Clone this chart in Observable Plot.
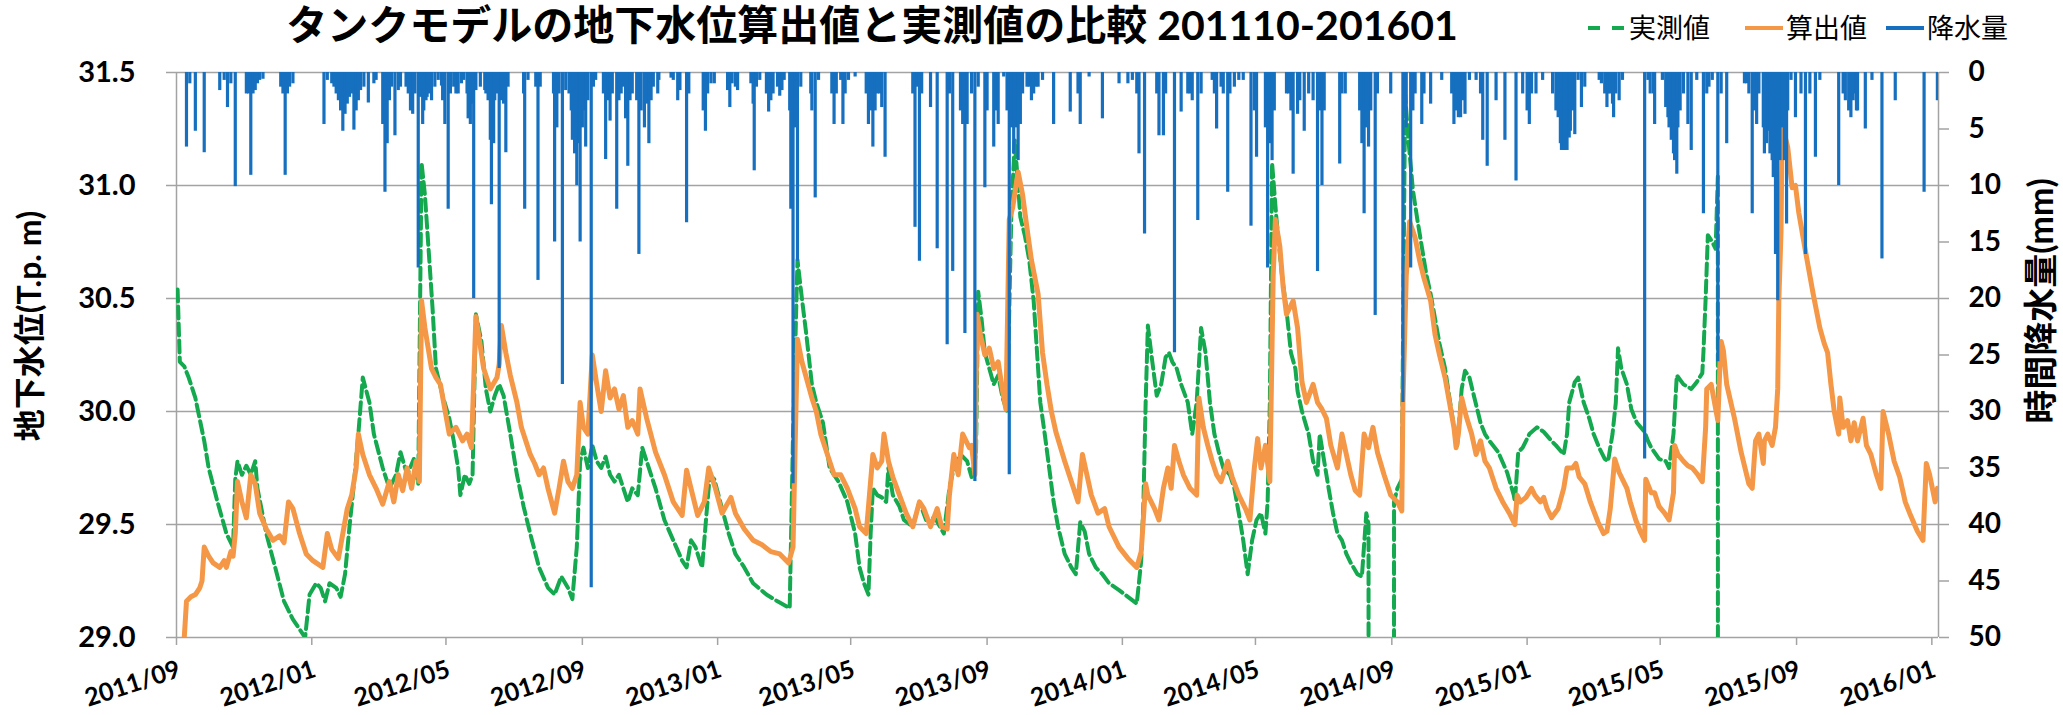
<!DOCTYPE html>
<html>
<head>
<meta charset="utf-8">
<script src="https://cdn.jsdelivr.net/npm/d3@7"></script>
<script src="https://cdn.jsdelivr.net/npm/@observablehq/plot@0.6"></script>
<style>
  body { margin: 0; background: #fff; }
  #wrap { position: relative; width: 2063px; height: 715px; overflow: hidden; background: #fff; }
  #wrap > svg { position: absolute; left: 0; top: 0; }
</style>
</head>
<body>
<div id="wrap"></div>
<script>
// ---- data -------------------------------------------------------------
// Days are counted from 2011-09-01.
const START = "2011-09-01";
const X_DOMAIN = ["2011-09-01", "2016-01-07"];

const xTicks = ["2011-09-01", "2012-01-01", "2012-05-01", "2012-09-01", "2013-01-01",
  "2013-05-01", "2013-09-01", "2014-01-01", "2014-05-01", "2014-09-01",
  "2015-01-01", "2015-05-01", "2015-09-01", "2016-01-01"];
const levelTicks = [29.0, 29.5, 30.0, 30.5, 31.0, 31.5];
const rainTicks = [0, 5, 10, 15, 20, 25, 30, 35, 40, 45, 50];

// measured groundwater level (T.p. m); 0 marks missing readings
const measuredDay = [1,3,7,11,17,25,29,37,45,51,53,55,59,63,67,71,73,81,89,97,105,116,120,126,130,134,138,144,148,152,156,160,164,168,174,178,186,192,198,202,208,214,218,221,224,228,231,234,240,246,250,254,256,260,264,267,270,275,279,283,287,291,295,301,307,313,319,327,335,341,347,353,357,361,364,367,371,375,379,383,387,391,395,399,403,407,411,416,420,424,432,440,448,456,460,464,468,474,478,481,485,492,498,504,512,520,532,542,553,556,560,564,568,573,577,583,589,597,605,612,616,620,624,626,628,632,636,640,642,646,652,656,664,670,676,684,692,697,701,707,713,717,721,723,726,729,733,737,741,745,749,753,756,761,765,769,773,775,779,783,787,791,795,801,807,811,815,819,823,829,835,841,850,858,866,870,872,874,876,880,884,888,892,895,898,902,906,912,916,920,924,928,932,936,940,944,950,954,958,962,966,970,974,978,982,984,986,988,992,997,1001,1005,1009,1011,1015,1021,1025,1029,1031,1035,1039,1043,1047,1051,1055,1059,1065,1069,1073,1075,1076,1097,1098,1101,1105,1108,1111,1115,1119,1123,1127,1131,1135,1139,1144,1148,1152,1155,1159,1162,1166,1170,1176,1180,1184,1192,1200,1206,1207,1210,1214,1220,1227,1233,1240,1244,1251,1254,1256,1261,1264,1269,1274,1278,1283,1288,1291,1295,1298,1300,1303,1308,1312,1317,1324,1327,1330,1337,1343,1346,1350,1353,1359,1366,1371,1376,1377,1379,1381,1385,1388,1390,1391];
const measuredLevel = [30.54,30.22,30.2,30.15,30.06,29.87,29.75,29.6,29.46,29.4,29.7,29.78,29.72,29.76,29.72,29.78,29.66,29.46,29.31,29.16,29.08,29.0,29.19,29.24,29.22,29.16,29.24,29.22,29.18,29.28,29.49,29.68,29.9,30.15,30.04,29.9,29.75,29.66,29.72,29.82,29.72,29.79,29.68,31.1,30.96,30.67,30.45,30.19,30.07,29.97,29.87,29.75,29.63,29.72,29.68,29.72,30.43,30.31,30.1,30.0,30.07,30.12,30.07,29.9,29.72,29.58,29.46,29.31,29.22,29.19,29.27,29.22,29.17,29.4,29.78,29.84,29.75,29.85,29.78,29.75,29.8,29.72,29.69,29.72,29.66,29.6,29.66,29.63,29.84,29.78,29.66,29.52,29.43,29.34,29.31,29.43,29.4,29.31,29.55,29.72,29.7,29.57,29.46,29.37,29.31,29.24,29.19,29.16,29.13,29.9,30.67,30.5,30.34,30.12,30.04,29.95,29.75,29.69,29.6,29.46,29.31,29.24,29.19,29.46,29.66,29.63,29.62,29.6,29.75,29.63,29.58,29.52,29.49,29.6,29.52,29.53,29.46,29.66,29.75,29.81,29.78,29.71,29.81,30.53,30.41,30.26,30.19,30.12,30.16,30.06,30.0,30.9,31.2,30.86,30.78,30.67,30.49,30.34,30.04,29.9,29.75,29.6,29.49,29.37,29.31,29.28,29.51,29.47,29.37,29.31,29.28,29.24,29.21,29.18,29.15,29.34,29.6,30.04,30.38,30.22,30.07,30.12,30.24,30.26,30.22,30.19,30.12,30.04,29.9,30.04,30.37,30.26,30.04,29.9,29.82,29.75,29.72,29.66,29.55,29.43,29.28,29.43,29.52,29.55,29.46,29.6,30.04,31.1,30.85,30.6,30.45,30.26,30.19,30.09,30.0,29.9,29.78,29.72,29.9,29.78,29.66,29.55,29.46,29.43,29.37,29.33,29.28,29.27,29.55,29.5,0,0,29.6,29.66,29.7,31.4,31.2,30.98,30.85,30.73,30.61,30.52,30.41,30.3,30.19,30.06,29.93,29.85,30.1,30.18,30.15,30.07,29.95,29.9,29.87,29.82,29.73,29.63,29.6,29.82,29.84,29.9,29.93,29.91,29.87,29.85,29.81,29.9,30.04,30.13,30.15,30.04,29.97,29.9,29.84,29.79,29.78,29.9,30.04,30.28,30.19,30.12,30.01,29.95,29.91,29.87,29.84,29.79,29.78,29.75,29.9,30.16,30.12,30.1,30.13,30.17,30.26,30.5,30.78,30.75,30.72,31.04,0];

// tank-model groundwater level (T.p. m)
const calcDay = [7,9,13,17,21,23,25,29,33,39,43,45,49,51,53,55,59,63,67,71,75,81,87,93,97,101,105,111,117,123,132,136,140,146,150,154,158,162,164,168,174,180,186,192,196,200,204,208,212,216,219,221,224,230,234,238,242,246,252,258,262,266,270,277,283,289,291,293,297,301,307,311,315,319,323,327,331,335,341,345,349,353,357,361,364,367,371,375,379,383,387,391,395,399,403,407,411,416,418,424,432,440,448,456,460,464,470,476,480,486,492,500,504,512,520,528,536,544,552,556,558,560,564,573,577,581,589,593,599,605,612,616,622,628,632,636,638,642,646,652,658,664,670,674,680,686,690,695,697,701,705,709,715,717,720,722,725,729,733,737,741,745,748,751,754,759,763,767,771,777,781,785,789,793,801,809,813,817,821,825,831,837,841,850,858,866,870,874,876,882,886,890,894,897,900,904,908,914,920,922,926,930,934,938,942,948,952,958,964,968,972,975,978,982,986,989,991,995,998,1001,1007,1011,1015,1019,1025,1029,1033,1037,1041,1047,1051,1055,1059,1063,1067,1071,1075,1079,1083,1089,1095,1101,1105,1106,1109,1112,1117,1121,1125,1131,1135,1139,1144,1148,1152,1154,1156,1159,1163,1168,1172,1176,1180,1184,1190,1196,1202,1207,1209,1212,1217,1222,1225,1230,1233,1236,1240,1243,1246,1251,1254,1259,1262,1265,1270,1275,1282,1287,1290,1293,1297,1301,1304,1308,1311,1316,1320,1324,1325,1330,1333,1337,1342,1346,1350,1351,1354,1359,1363,1367,1372,1376,1379,1380,1384,1387,1390,1392,1393,1395,1398,1405,1411,1418,1421,1424,1427,1431,1432,1435,1439,1442,1444,1445,1447,1448,1453,1457,1460,1463,1469,1476,1482,1486,1489,1492,1495,1499,1500,1503,1507,1510,1513,1516,1521,1524,1528,1533,1537,1539,1544,1549,1554,1559,1563,1570,1575,1578,1581,1586,1588];
const calcLevel = [29.0,29.16,29.18,29.19,29.22,29.25,29.4,29.36,29.33,29.31,29.34,29.31,29.38,29.36,29.46,29.69,29.6,29.53,29.72,29.68,29.55,29.48,29.43,29.45,29.42,29.6,29.57,29.46,29.37,29.34,29.31,29.46,29.39,29.35,29.46,29.57,29.63,29.75,29.9,29.81,29.72,29.66,29.59,29.69,29.6,29.72,29.65,29.75,29.66,29.78,29.69,30.49,30.37,30.19,30.15,30.12,30.01,29.9,29.93,29.87,29.9,29.84,30.42,30.19,30.1,30.15,30.21,30.38,30.26,30.16,30.04,29.93,29.87,29.81,29.77,29.72,29.75,29.66,29.55,29.66,29.78,29.69,29.66,29.72,30.04,29.93,29.9,30.25,30.12,30.0,30.18,30.06,30.1,30.01,30.07,29.93,29.96,29.9,30.1,29.97,29.82,29.72,29.6,29.54,29.74,29.66,29.54,29.6,29.75,29.66,29.55,29.62,29.55,29.48,29.43,29.41,29.38,29.37,29.33,29.4,29.87,30.32,30.22,30.06,30.0,29.9,29.78,29.72,29.72,29.66,29.57,29.49,29.46,29.81,29.75,29.78,29.9,29.78,29.71,29.63,29.55,29.49,29.6,29.57,29.49,29.57,29.49,29.48,29.63,29.81,29.72,29.9,29.84,29.85,29.72,30.43,30.34,30.25,30.28,30.19,30.22,30.09,30.01,30.85,30.9,31.06,30.96,30.81,30.67,30.52,30.26,30.12,30.0,29.91,29.78,29.66,29.6,29.81,29.72,29.63,29.55,29.57,29.49,29.4,29.35,29.31,29.38,29.68,29.63,29.57,29.52,29.66,29.75,29.66,29.85,29.78,29.72,29.66,29.63,30.06,29.93,29.85,29.78,29.72,29.69,29.78,29.71,29.63,29.57,29.52,29.75,29.88,29.75,29.85,29.69,30.6,30.85,30.73,30.55,30.43,30.49,30.37,30.13,30.04,30.12,30.04,30.01,29.97,29.85,29.75,29.9,29.81,29.72,29.65,29.63,29.9,29.84,29.93,29.82,29.72,29.63,29.6,29.56,30.04,30.6,30.84,30.77,30.67,30.59,30.49,30.34,30.25,30.15,30.04,29.93,29.84,29.9,30.06,29.98,29.9,29.81,29.87,29.78,29.75,29.66,29.6,29.55,29.5,29.63,29.6,29.62,29.66,29.63,29.6,29.62,29.57,29.53,29.55,29.57,29.66,29.75,29.75,29.77,29.71,29.68,29.6,29.51,29.46,29.47,29.57,29.79,29.73,29.7,29.66,29.6,29.52,29.47,29.43,29.7,29.64,29.64,29.58,29.55,29.52,29.64,29.85,29.81,29.78,29.76,29.75,29.72,29.69,29.93,30.1,30.12,30.04,29.96,30.22,30.31,30.27,30.12,29.97,29.82,29.68,29.66,29.87,29.9,29.77,29.87,29.9,29.85,29.93,30.1,30.49,30.8,31.27,31.17,30.99,31.0,30.88,30.71,30.52,30.37,30.3,30.26,30.12,30.0,29.9,30.06,29.93,29.96,29.87,29.95,29.87,29.97,29.85,29.81,29.72,29.66,30.0,29.9,29.78,29.71,29.6,29.55,29.47,29.43,29.77,29.72,29.6,29.66];

// hourly precipitation: [day, mm]
const rainfall = [
  [9,6.6],[12,1.0],[17,5.2],[25,7.1],[39,1.6],[43,0.7],[46,3.1],[49,1.0],[53,10.1],[63,1.9],
  [65,1.9],[67,9.1],[69,1.9],[71,1.6],[73,1.0],[75,0.7],[78,0.6],[94,1.3],[96,1.9],[98,9.1],
  [100,1.9],[102,1.3],[105,1.0],[133,4.6],[136,0.7],[140,1.0],[142,1.3],[144,1.9],[146,2.5],[148,3.4],
  [150,5.2],[152,3.7],[154,2.8],[156,2.2],[158,1.9],[160,5.1],[162,3.4],[164,2.5],[166,1.6],[169,1.3],
  [173,2.7],[178,1.0],[180,0.7],[186,4.6],[188,10.6],[190,6.3],[192,2.5],[194,1.3],[197,5.6],[200,1.6],
  [202,1.3],[207,1.3],[209,1.9],[211,3.4],[213,3.7],[215,1.9],[218,17.3],[220,2.2],[222,4.6],[223,3.4],
  [225,2.5],[226,2.2],[228,1.9],[230,2.5],[233,1.3],[236,0.7],[239,1.2],[240,2.5],[242,4.6],[245,12.1],
  [247,1.9],[250,1.3],[252,1.9],[254,1.9],[257,1.0],[259,0.7],[262,1.9],[263,4.1],[265,4.6],[267,2.8],
  [268,20.0],[270,1.6],[274,1.3],[278,1.6],[279,1.9],[281,2.5],[283,6.0],[284,11.7],[286,6.3],[287,2.5],
  [289,1.9],[291,26.2],[293,2.5],[295,2.8],[297,7.1],[299,1.3],[313,1.9],[314,12.1],[317,0.7],[324,1.3],
  [326,18.4],[328,1.3],[340,1.9],[341,15.0],[343,4.9],[345,1.9],[348,27.6],[351,1.6],[354,1.9],[356,3.4],
  [357,6.0],[359,7.2],[361,10.0],[363,6.3],[364,15.0],[366,4.9],[367,3.4],[369,6.6],[371,2.5],[374,45.6],
  [376,1.3],[378,0.7],[385,1.9],[387,7.7],[389,2.5],[391,4.3],[393,1.9],[397,12.1],[399,2.5],[401,1.9],
  [403,1.3],[405,4.1],[407,8.3],[409,2.5],[411,1.9],[415,2.5],[417,16.1],[419,3.4],[422,4.9],[424,2.8],
  [426,6.3],[428,2.5],[430,1.3],[434,1.9],[435,0.7],[446,0.5],[448,0.7],[452,2.5],[454,1.6],[460,13.3],
  [462,1.9],[475,3.4],[477,5.2],[479,1.9],[482,1.0],[485,1.0],[497,1.6],[499,3.1],[501,1.0],[504,1.3],
  [506,1.6],[518,1.0],[520,2.8],[521,8.7],[523,1.3],[526,0.7],[532,1.9],[534,3.5],[536,2.5],[538,1.9],
  [542,1.3],[544,2.1],[546,1.6],[548,0.7],[553,3.4],[554,12.1],[556,36.4],[558,4.9],[560,16.7],[563,1.3],
  [572,1.9],[573,3.4],[576,11.1],[579,0.7],[591,1.9],[593,4.6],[595,1.9],[599,0.7],[601,4.6],[603,1.9],
  [606,0.7],[612,0.4],[622,1.9],[624,4.6],[626,3.4],[628,6.6],[630,3.4],[632,1.9],[634,1.9],[636,3.1],
  [639,7.5],[664,1.9],[666,13.7],[668,1.3],[670,16.7],[672,1.9],[680,3.1],[686,15.6],[695,24.1],[697,1.9],
  [700,17.6],[707,3.4],[709,4.6],[711,23.1],[713,4.6],[717,1.9],[720,36.2],[723,1.3],[729,10.2],[731,3.4],
  [737,6.6],[739,3.4],[741,4.6],[746,0.4],[749,3.4],[751,35.6],[753,4.9],[755,7.2],[757,4.9],[759,7.8],
  [761,4.6],[763,1.9],[767,1.3],[769,1.3],[771,2.5],[773,1.9],[775,1.3],[777,1.3],[781,0.7],[791,4.6],
  [806,3.5],[813,1.9],[815,4.6],[823,0.4],[835,4.1],[850,1.0],[858,1.0],[862,0.7],[866,1.9],[868,7.2],
  [873,14.3],[884,1.9],[886,5.6],[890,5.6],[892,1.9],[900,24.8],[906,3.5],[912,1.9],[914,1.9],[916,2.5],
  [921,13.1],[924,1.9],[934,0.7],[936,1.9],[938,5.0],[942,1.3],[944,1.9],[948,10.6],[950,1.9],[954,1.3],
  [958,0.7],[962,0.7],[969,13.6],[972,3.4],[974,7.5],[982,4.9],[984,17.3],[986,6.3],[988,7.8],[990,3.4],
  [1001,1.9],[1003,1.9],[1005,3.4],[1007,9.0],[1011,3.7],[1013,2.5],[1017,5.2],[1021,1.9],[1025,2.5],[1029,17.6],
  [1031,3.4],[1033,10.0],[1035,3.4],[1049,8.1],[1051,1.9],[1054,1.9],[1067,3.4],[1069,6.3],[1071,12.5],[1073,4.9],
  [1075,6.6],[1077,3.4],[1081,21.5],[1083,1.9],[1095,1.9],[1106,29.2],[1108,3.4],[1109,4.9],[1113,17.3],[1115,3.4],
  [1117,1.9],[1123,4.6],[1125,1.9],[1131,2.8],[1141,0.7],[1150,1.9],[1152,4.6],[1154,3.4],[1156,4.0],[1158,4.0],
  [1160,2.5],[1162,3.7],[1166,0.7],[1172,0.7],[1176,1.9],[1178,6.0],[1182,8.3],[1190,2.5],[1198,6.0],[1208,9.6],
  [1214,1.9],[1218,3.4],[1220,4.6],[1222,1.9],[1226,1.9],[1232,0.7],[1241,1.9],[1244,3.4],[1246,4.0],[1248,6.3],
  [1249,6.9],[1251,6.9],[1252,6.9],[1254,6.9],[1256,5.8],[1257,5.2],[1259,3.4],[1261,5.5],[1264,0.7],[1267,3.1],
  [1270,1.3],[1283,0.7],[1285,1.0],[1288,1.9],[1290,3.1],[1291,1.9],[1293,1.9],[1295,2.8],[1296,4.0],[1298,1.9],
  [1301,2.5],[1304,0.7],[1324,34.2],[1327,0.7],[1329,1.9],[1332,1.9],[1333,4.6],[1340,0.7],[1343,3.1],[1345,4.0],
  [1346,4.9],[1348,6.0],[1350,7.2],[1351,7.8],[1353,9.0],[1354,4.9],[1356,3.4],[1359,1.9],[1363,4.6],[1366,6.9],
  [1371,0.7],[1377,12.5],[1380,1.9],[1382,1.3],[1385,0.7],[1390,25.6],[1393,1.9],[1398,6.3],[1414,1.0],[1416,1.0],
  [1418,1.9],[1421,12.5],[1423,3.4],[1425,4.6],[1427,1.9],[1431,4.9],[1432,7.2],[1434,6.3],[1435,5.2],[1437,7.2],
  [1439,7.8],[1440,9.3],[1442,16.1],[1444,20.2],[1446,7.8],[1448,4.9],[1450,7.8],[1452,13.4],[1453,3.4],[1456,0.7],
  [1460,4.0],[1465,1.9],[1469,16.1],[1473,1.9],[1478,7.5],[1482,0.7],[1499,10.0],[1503,1.9],[1505,2.5],[1508,3.4],
  [1510,4.0],[1512,2.5],[1513,1.9],[1515,3.4],[1516,3.4],[1523,5.0],[1529,0.7],[1538,16.5],[1550,2.5],[1576,10.6],
  [1588,2.5]
];

// ---- build ------------------------------------------------------------
const parse = d3.utcParse("%Y-%m-%d");
const start = parse(START);
const toDate = d => d3.utcDay.offset(start, d);

const measured = measuredDay.map((d, i) => ({date: toDate(d), level: measuredLevel[i]}));
const calculated = calcDay.map((d, i) => ({date: toDate(d), level: calcLevel[i]}));
const rain = rainfall.map(([d, mm]) => ({date: toDate(d), mm}));

const W = 2063, H = 715;
const M = {top: 72, right: 125, bottom: 78, left: 176};
const FONT = 'Lato, "Noto Sans CJK JP", sans-serif';
const GRID = "#a3a3a3";
const GREEN = "#14a84f", ORANGE = "#f49746", BLUE = "#1670bf";
const xDomain = X_DOMAIN.map(parse);

const common = {
  width: W, height: H,
  marginTop: M.top, marginRight: M.right, marginBottom: M.bottom, marginLeft: M.left,
  x: {type: "utc", domain: xDomain}
};

// groundwater levels on the left axis
const levelPlot = Plot.plot({
  ...common,
  style: {fontFamily: FONT, fontWeight: "bold", color: "#000", background: "white", overflow: "visible"},
  y: {domain: [29, 31.5]},
  marks: [
    Plot.ruleY(levelTicks, {stroke: GRID, strokeWidth: 1.5}),
    Plot.ruleX([xDomain[0], xDomain[1]], {stroke: GRID, strokeWidth: 1.5}),
    Plot.axisY({ticks: levelTicks, tickFormat: d3.format(".1f"), tickSize: 10, tickPadding: 31,
      fontSize: 29, stroke: GRID, strokeWidth: 1.5, fill: "#000", label: null}),
    Plot.axisX({ticks: xTicks.map(parse), tickFormat: d3.utcFormat("%Y/%m"), tickSize: 8,
      tickPadding: 14, tickRotate: -18, textAnchor: "end", lineAnchor: "top", fontSize: 25,
      stroke: GRID, strokeWidth: 1.5, fill: "#000", label: null}),
    Plot.line(measured, {x: "date", y: "level", stroke: GREEN, strokeWidth: 4,
      strokeDasharray: "12,5", clip: true}),
    Plot.line(calculated, {x: "date", y: "level", stroke: ORANGE, strokeWidth: 5, clip: true})
  ]
});

// precipitation hanging from the top, right axis
const rainPlot = Plot.plot({
  ...common,
  style: {fontFamily: FONT, fontWeight: "bold", color: "#000", background: "transparent", overflow: "visible"},
  y: {domain: [0, 50], reverse: true},
  marks: [
    Plot.ruleX(rain, {x: "date", y1: 0, y2: "mm", stroke: BLUE, strokeWidth: 3.2, clip: true}),
    Plot.axisY({anchor: "right", ticks: rainTicks, tickSize: 10, tickPadding: 20, fontSize: 28,
      stroke: GRID, strokeWidth: 1.5, fill: "#000", label: null}),
    Plot.axisX({ticks: [], label: null})
  ]
});

const wrap = document.getElementById("wrap");
wrap.appendChild(levelPlot);
wrap.appendChild(rainPlot);

// title, legend and axis titles
const svg = d3.select(wrap).append("svg")
  .attr("width", W).attr("height", H)
  .style("font-family", FONT);

svg.append("text").attr("x", 872).attr("y", 40).attr("text-anchor", "middle")
  .attr("font-size", 41).attr("font-weight", "bold").attr("fill", "#000")
  .text("タンクモデルの地下水位算出値と実測値の比較 201110-201601");

const legendItems = [
  {label: "実測値", color: GREEN, dash: "12,12", x: 1588},
  {label: "算出値", color: ORANGE, dash: null, x: 1745},
  {label: "降水量", color: BLUE, dash: null, x: 1886}
];
legendItems.forEach(it => {
  svg.append("line").attr("x1", it.x).attr("x2", it.x + 38).attr("y1", 28).attr("y2", 28)
    .attr("stroke", it.color).attr("stroke-width", 4)
    .attr("stroke-dasharray", it.dash);
  svg.append("text").attr("x", it.x + 41).attr("y", 38).attr("font-size", 27)
    .attr("fill", "#000").text(it.label);
});

svg.append("text").attr("transform", "translate(41,326) rotate(-90)")
  .attr("text-anchor", "middle").attr("font-size", 32).attr("font-weight", "bold")
  .attr("fill", "#000").text("地下水位(T.p. m)");
svg.append("text").attr("transform", "translate(2053,301) rotate(-90)")
  .attr("text-anchor", "middle").attr("font-size", 34).attr("font-weight", "bold")
  .attr("fill", "#000").text("時間降水量(mm)");
</script>
</body>
</html>
